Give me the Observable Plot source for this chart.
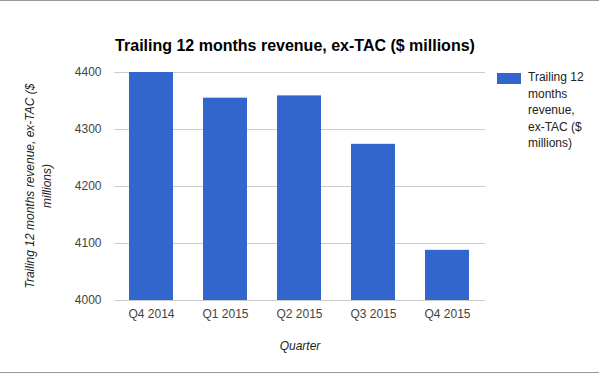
<!DOCTYPE html>
<html>
<head>
<meta charset="utf-8">
<script src="https://cdn.jsdelivr.net/npm/d3@7"></script>
<script src="https://cdn.jsdelivr.net/npm/@observablehq/plot@0.6"></script>
<style>
  html, body { margin: 0; padding: 0; background: #fff; }
  #chart { position: relative; width: 599px; height: 375px; overflow: hidden; font-family: Arial, "Liberation Sans", sans-serif; }
  #chart svg { position: absolute; left: 0; top: 0; }
  .abs { position: absolute; white-space: nowrap; }
</style>
</head>
<body>
<div id="chart"></div>
<script>
const chartTitle = "Trailing 12 months revenue, ex-TAC ($ millions)";
const quarters = ["Q4 2014", "Q1 2015", "Q2 2015", "Q3 2015", "Q4 2015"];
const revenue = [4400, 4355, 4359, 4274, 4088];
const yTicks = [4000, 4100, 4200, 4300, 4400];
const xTitle = "Quarter";
const yTitleLines = ["Trailing 12 months revenue, ex-TAC ($", "millions)"];
const legendLines = ["Trailing 12", "months", "revenue,", "ex-TAC ($", "millions)"];
const barColor = "#3366cc";

const data = quarters.map((q, i) => ({quarter: q, value: revenue[i]}));
const base = yTicks[0];

const plot = Plot.plot({
  width: 599,
  height: 375,
  marginTop: 72,
  marginBottom: 75,
  marginLeft: 114,
  marginRight: 114,
  style: {fontFamily: 'Arial, "Liberation Sans", sans-serif', fontSize: "12px", color: "#444", background: "transparent"},
  x: {domain: quarters, paddingInner: 0.4, paddingOuter: 0.2, label: null},
  y: {domain: [yTicks[0], yTicks[yTicks.length - 1]], label: null},
  marks: [
    Plot.gridY(yTicks, {stroke: "#cccccc", strokeOpacity: 1}),
    Plot.barY(data, {x: "quarter", y1: () => base, y2: "value", fill: barColor}),
    Plot.axisY(yTicks, {tickSize: 0, tickPadding: 13, fontSize: 12, tickFormat: d3.format("d"), label: null}),
    Plot.axisX({tickSize: 0, tickPadding: 9, fontSize: 12, label: null})
  ]
});

const root = document.getElementById("chart");
root.appendChild(plot);

function addDiv(html, css) {
  const d = document.createElement("div");
  d.className = "abs";
  d.innerHTML = html;
  Object.assign(d.style, css);
  root.appendChild(d);
  return d;
}

// borders (screenshot frame lines)
addDiv("", {left: "0px", top: "0px", width: "599px", height: "1px", background: "#9a9a9a"});
addDiv("", {left: "0px", top: "372px", width: "599px", height: "1px", background: "#9a9a9a"});

// title
addDiv(chartTitle, {left: "95px", width: "400px", top: "36px", textAlign: "center", fontSize: "16px", fontWeight: "bold", lineHeight: "20px", color: "#000"});

// x title
addDiv(xTitle, {left: "200px", width: "200px", top: "339px", textAlign: "center", fontSize: "12px", fontStyle: "italic", lineHeight: "14px", color: "#222"});

// y title (rotated)
addDiv(yTitleLines.join("<br>"), {left: "-81px", width: "240px", top: "169px", height: "34px", textAlign: "center", fontSize: "12px", fontStyle: "italic", lineHeight: "17px", color: "#222", transform: "rotate(-90deg)", transformOrigin: "50% 50%"});

// legend
addDiv("", {left: "497px", top: "73px", width: "24px", height: "11px", background: barColor});
addDiv(legendLines.join("<br>"), {left: "528px", top: "69px", fontSize: "12px", lineHeight: "16.5px", color: "#222"});
</script>
</body>
</html>
